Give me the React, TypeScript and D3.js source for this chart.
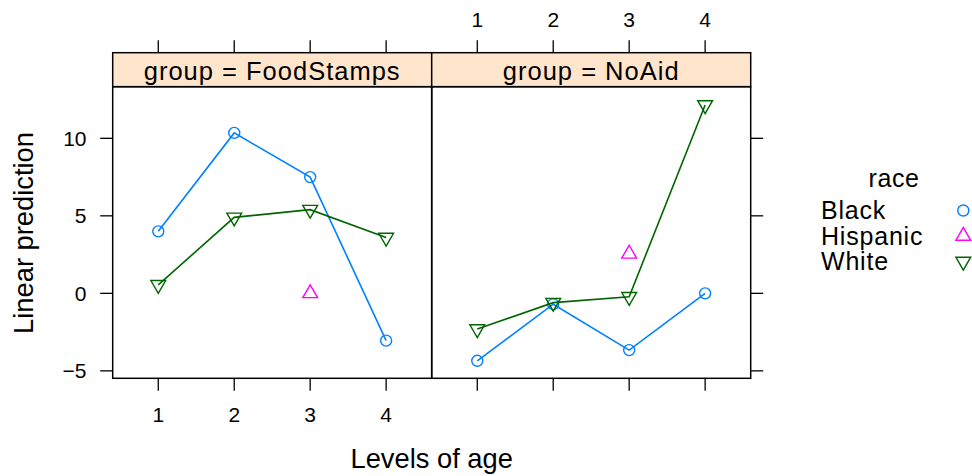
import * as d3 from "d3";
import * as React from "react";

const ages = [1, 2, 3, 4];
const groups = ["FoodStamps", "NoAid"];
const races = ["Black", "Hispanic", "White"];
const raceColors = ["#0080ff", "#ff00ff", "#006400"];
const yTicks = [-5, 0, 5, 10];

// predictions by age (null = no estimate)
const foodStampsBlack = [4.0, 10.35, 7.5, -3.05];
const foodStampsHispanic = [null, null, 0.0, null];
const foodStampsWhite = [0.55, 4.9, 5.4, 3.6];
const noAidBlack = [-4.35, -0.7, -3.66, 0.0];
const noAidHispanic = [null, null, 2.55, null];
const noAidWhite = [-2.3, -0.6, -0.22, 12.15];

const panelData: Array<Array<Array<number | null>>> = [
    [foodStampsBlack, foodStampsHispanic, foodStampsWhite],
    [noAidBlack, noAidHispanic, noAidWhite],
];

const width = 972;
const height = 476;
const panelW = 319;
const left = 112.7;
const stripTop = 52.7;
const stripH = 34;
const panelTop = stripTop + stripH;
const panelBottom = 378.3;
const tick = 12.5;
const font = "'Liberation Sans', Arial, Helvetica, sans-serif";
const R = 5.5;

const y = d3.scaleLinear().domain([-5.48, 13.33]).range([panelBottom, panelTop]);

function symbol(race: number, cx: number, cy: number, color: string, key: string) {
    if (race === 0) {
        return <circle key={key} cx={cx} cy={cy} r={R} fill="none" stroke={color} strokeWidth={1.4} />;
    }
    const r = 1.5551 * R, xc = 1.3468 * R, yc = 0.7776 * R;
    const s = race === 1 ? -1 : 1; // up / down triangle
    const pts = [[cx, cy + s * r], [cx + xc, cy - s * yc], [cx - xc, cy - s * yc]];
    return <polygon key={key} points={pts.map(p => p.join(",")).join(" ")} fill="none" stroke={color} strokeWidth={1.4} />;
}

export default function App() {
    const xs = groups.map((_, i) =>
        d3.scaleLinear().domain([0.4, 4.6]).range([left + i * panelW, left + (i + 1) * panelW]));
    const right = left + 2 * panelW;

    return (
        <svg width={width} height={height} style={{ position: "absolute", left: 0, top: 0, fontFamily: font }}>
            <rect width={width} height={height} fill="#fff" />
            {groups.map((g, i) => {
                const x = xs[i];
                const x0 = left + i * panelW;
                return (
                    <g key={g}>
                        <rect x={x0} y={stripTop} width={panelW} height={stripH} fill="#ffe5cc" stroke="#000" strokeWidth={1.5} />
                        <text x={x0 + panelW / 2} y={80} textAnchor="middle" fontSize={25.5} letterSpacing={1}>{`group = ${g}`}</text>
                        {panelData[i].map((vals, ri) => {
                            const pts = ages.map((a, k) => [x(a), vals[k]] as [number, number | null])
                                .filter(p => p[1] !== null) as Array<[number, number]>;
                            const line = d3.line<[number, number]>().x(p => p[0]).y(p => y(p[1]));
                            return (
                                <g key={races[ri]}>
                                    {pts.length > 1 && <path d={line(pts)!} fill="none" stroke={raceColors[ri]} strokeWidth={1.6} />}
                                    {pts.map((p, k) => symbol(ri, p[0], y(p[1]), raceColors[ri], `${ri}-${k}`))}
                                </g>
                            );
                        })}
                        <rect x={x0} y={panelTop} width={panelW} height={panelBottom - panelTop} fill="none" stroke="#000" strokeWidth={1.5} />
                        {ages.map(a => (
                            <g key={a}>
                                <line x1={x(a)} x2={x(a)} y1={panelBottom} y2={panelBottom + tick} stroke="#000" strokeWidth={1.3} />
                                <line x1={x(a)} x2={x(a)} y1={stripTop} y2={stripTop - tick} stroke="#000" strokeWidth={1.3} />
                                {i === 0 && <text x={x(a)} y={421.5} textAnchor="middle" fontSize={21}>{a}</text>}
                                {i === 1 && <text x={x(a)} y={26.5} textAnchor="middle" fontSize={21}>{a}</text>}
                            </g>
                        ))}
                    </g>
                );
            })}
            {yTicks.map(t => (
                <g key={t}>
                    <line x1={left} x2={left - tick} y1={y(t)} y2={y(t)} stroke="#000" strokeWidth={1.3} />
                    <line x1={right} x2={right + tick} y1={y(t)} y2={y(t)} stroke="#000" strokeWidth={1.3} />
                    <text x={86.5} y={y(t) + 7.5} textAnchor="end" fontSize={21}>{t < 0 ? `\u2212${-t}` : t}</text>
                </g>
            ))}
            <text transform={`translate(33,${(panelTop + panelBottom) / 2 + 0.5}) rotate(-90)`} textAnchor="middle" fontSize={27.3}>Linear prediction</text>
            <text x={left + panelW} y={468} textAnchor="middle" fontSize={27.3}>Levels of age</text>
            <text x={894} y={186.5} textAnchor="middle" fontSize={25} letterSpacing={0.6}>race</text>
            {races.map((r, i) => (
                <g key={r}>
                    <text x={821} y={219 + i * 25.5} fontSize={25} letterSpacing={0.8}>{r}</text>
                    {symbol(i, 963.3, 210.5 + i * 25.5, raceColors[i], `leg-${i}`)}
                </g>
            ))}
        </svg>
    );
}
